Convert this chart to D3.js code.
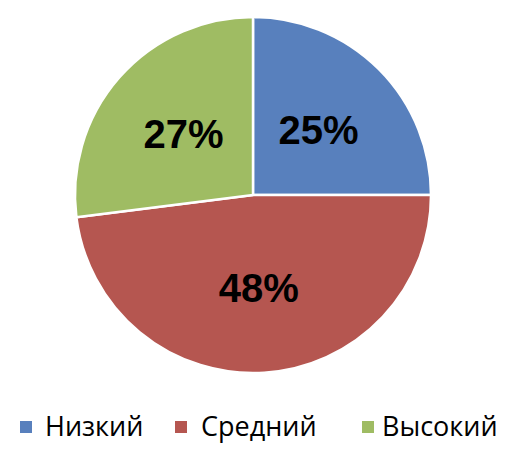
<!DOCTYPE html>
<html><head><meta charset="utf-8">
<script src="https://cdn.jsdelivr.net/npm/d3@7"></script>
<style>html,body{margin:0;padding:0;background:#fff;}</style>
</head><body>
<svg id="c" width="522" height="450"></svg>
<script>
const categories = ["Низкий", "Средний", "Высокий"];
const values = [25, 48, 27];
const labels = ["25%", "48%", "27%"];
const colors = ["#5880BD", "#B55650", "#9FBC63"];

const svg = d3.select("#c");
const cx = 253, cy = 195, r = 178;
const g = svg.append("g").attr("transform", `translate(${cx},${cy})`);
const pie = d3.pie().sort(null).value(d => d)(values);
const arc = d3.arc().innerRadius(0).outerRadius(r);
const labelArc = d3.arc().innerRadius(r * 0.52).outerRadius(r * 0.52);

g.selectAll("path").data(pie).join("path")
  .attr("d", arc)
  .attr("fill", (d, i) => colors[i])
  .attr("stroke", "#fff").attr("stroke-width", 2.5).attr("stroke-linejoin", "round");

g.selectAll("text").data(pie).join("text")
  .attr("transform", d => `translate(${labelArc.centroid(d)})`)
  .attr("text-anchor", "middle").attr("dy", "0.36em")
  .style("font-family", "'Liberation Sans', Arial, sans-serif")
  .style("font-weight", "bold").style("font-size", "40px")
  .attr("fill", "#000")
  .text((d, i) => labels[i]);

const legendX = [20, 175, 362];
const legendTextX = [45, 201, 382];
const lg = svg.append("g");
categories.forEach((c, i) => {
  lg.append("rect").attr("x", legendX[i]).attr("y", 421).attr("width", 12).attr("height", 12).attr("fill", colors[i]);
  lg.append("text").attr("x", legendTextX[i]).attr("y", 436)
    .style("font-family", "'Open Sans', sans-serif").style("font-size", "27px")
    .attr("fill", "#000").text(c);
});
</script>
</body></html>
